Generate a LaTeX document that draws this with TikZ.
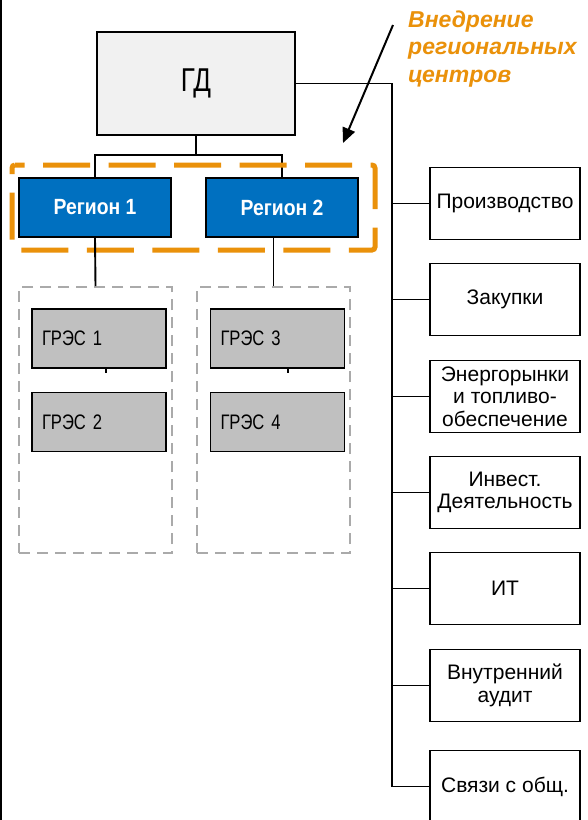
\documentclass[tikz,border=0pt]{standalone}
\usepackage{fontspec}
\setmainfont{Liberation Sans}
\newfontfamily\narrowfont[FakeStretch=0.79]{Liberation Sans}
\newfontfamily\regfont[FakeStretch=0.88]{Liberation Sans}
\usetikzlibrary{arrows.meta}
\definecolor{regblue}{RGB}{0,112,192}
\definecolor{annorange}{RGB}{234,145,10}
\definecolor{gresgray}{RGB}{192,192,192}
\definecolor{gdfill}{RGB}{241,241,241}
\definecolor{dashgray}{RGB}{170,170,170}
\tikzset{
  conn/.style={draw=black, line width=1.9pt},
  gdbox/.style={draw=black, line width=1.9pt, fill=gdfill, minimum width=198pt, minimum height=103pt,
    font=\narrowfont\fontsize{33}{35}\selectfont, inner sep=0pt},
  regbox/.style={draw=black, line width=1.9pt, fill=regblue, text=white, minimum width=152pt, minimum height=59pt,
    font=\regfont\bfseries\fontsize{22}{24}\selectfont, inner sep=0pt},
  gresbox/.style={draw=black, line width=1.7pt, fill=gresgray, minimum width=134pt, minimum height=59pt,
    font=\narrowfont\fontsize{21}{23}\selectfont, inner sep=0pt, text width=114pt, align=left},
  grpbox/.style={draw=dashgray, line width=1.8pt, dash pattern=on 11pt off 7pt, minimum width=153pt, minimum height=266pt, inner sep=0pt},
  funcbox/.style={draw=black, line width=1.9pt, fill=white, minimum width=150pt, minimum height=72pt,
    font=\fontsize{21}{22.5}\selectfont, inner sep=0pt, align=center},
  hlline/.style={draw=annorange, line width=5pt, dash pattern=on 47pt off 18.5pt, dash phase=37.3pt, rounded corners=3pt},
  anno/.style={text=annorange, font=\bfseries\itshape\fontsize{23}{27.5}\selectfont, align=left, inner sep=0pt},
}
\begin{document}
\begin{tikzpicture}[x=1pt,y=-1pt]
\useasboundingbox (0,0) rectangle (587,820);
\fill[white] (0,0) rectangle (587,820);
\draw[black, line width=2.5pt] (1,0) -- (1,820);

% top
\node[gdbox] (gd) at (196,83.5) {ГД};
\node[regbox] (r1) at (95,207.5) {Регион 1};
\node[regbox] (r2) at (282,207.5) {Регион 2};
\coordinate (hb) at (0,155);
\draw[conn] (gd.south) -- (gd.south |- hb) -- (hb -| r1.north) -- (r1.north);
\draw[conn] (gd.south |- hb) -- (hb -| r2.north) -- (r2.north);

% highlight
\coordinate (hl1) at (12,165);
\coordinate (hl2) at (375,250);
\draw[hlline] (hl1) -- (hl1 -| hl2) -- (hl2) -- (hl2 -| hl1) -- cycle;

% groups
\node[grpbox] (g1) at (95.5,420) {};
\node[grpbox] (g2) at (273.5,420) {};
\draw[conn] (r1.south) -- (g1.north);
\draw[conn] (r2.south -| g2.north) -- (g2.north);

\node[gresbox] (e1) at (99,338.5) {ГРЭС 1};
\node[gresbox] (e2) at (99,422) {ГРЭС 2};
\node[gresbox] (e3) at (277.5,338.5) {ГРЭС 3};
\node[gresbox] (e4) at (277.5,422) {ГРЭС 4};
\coordinate (s1) at (106,373);
\coordinate (s3) at (288,373);
\draw[line width=1.5pt] (s1 |- e1.south) -- (s1);
\draw[line width=1.5pt] (s3 |- e3.south) -- (s3);

% right column
\node[funcbox] (f1) at (505,203.5) {Производство};
\node[funcbox] (f2) at (505,299.5) {Закупки};
\node[funcbox] (f3) at (505,396.5) {Энергорынки\\и топливо-\\обеспечение};
\node[funcbox] (f4) at (505,492.5) {Инвест.\\Деятельность};
\node[funcbox] (f5) at (505,588.5) {ИТ};
\node[funcbox] (f6) at (505,685.5) {Внутренний\\аудит};
\node[funcbox] (f7) at (505,786.5) {Связи с общ.};
\coordinate (tk) at (392,0);
\draw[conn] (gd.east) -- (gd.east -| tk) -- (tk |- f7.west) -- (f7.west);
\foreach \b in {f1,f2,f3,f4,f5,f6}{
  \draw[conn] (tk |- \b.west) -- (\b.west);
}

% annotation
\node[anno, anchor=north west] (an) at (408,10.5) {Внедрение\\региональных\\центров};
\coordinate (as) at (393,25);
\coordinate (ae) at (343,143);
\draw[line width=2pt, -{Triangle[length=15pt,width=13pt]}] (as) -- (ae);
\end{tikzpicture}
\end{document}
